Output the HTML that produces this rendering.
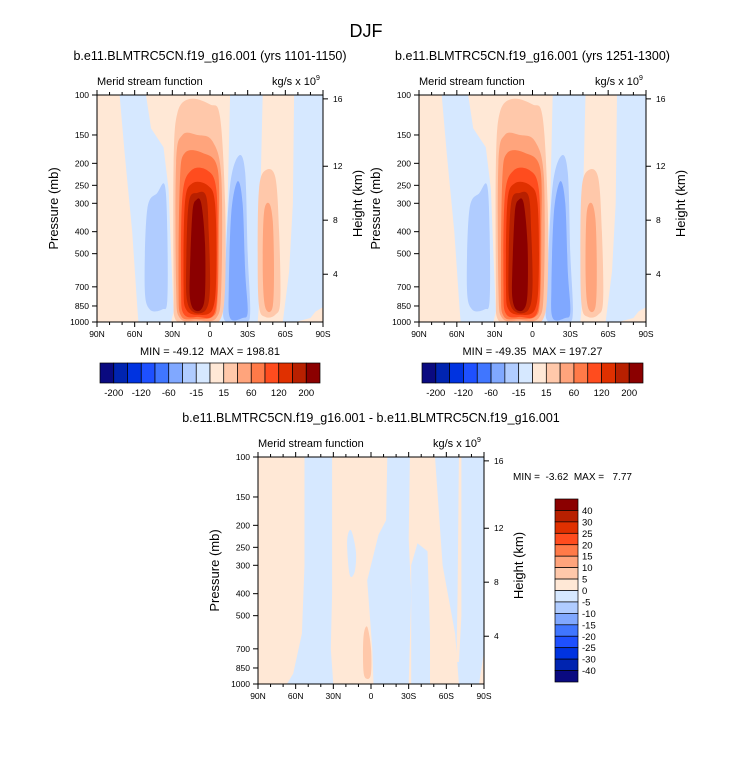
<!DOCTYPE html>
<html><head><meta charset="utf-8"><style>
body{margin:0;background:#fff}
svg{display:block;font-family:"Liberation Sans",sans-serif}
text{white-space:pre}
</style></head><body>
<svg id="svg" width="733" height="780" xmlns="http://www.w3.org/2000/svg">
<text x="366" y="37" font-size="18" text-anchor="middle">DJF</text>
<g id="root"></g>
</svg>
<script>
// ---- data ----
const levelsMain = [-200,-120,-60,-15,15,60,120,200];
const levelsDiff = ["40","30","25","20","15","10","5","0","-5","-10","-15","-20","-25","-30","-40"];
const colors = ["#0a0a80","#0024b0","#0033e0","#1e50ff","#4076ff","#80a8ff","#b0ccff","#d6e8ff",
                "#ffe8d6","#ffc8aa","#ffa47c","#ff7a48","#ff4c1e","#e03000","#b82000","#8b0000"];
const pTicks = [100,150,200,250,300,400,500,700,850,1000];
const hTicks = [4,8,12,16];
const hTickP = [616,356,206,104];   // pressure equivalent of height ticks
const latTicks = [90,60,30,0,-30,-60,-90];
const latLabels = ["90N","60N","30N","0","30S","60S","90S"];
// contour regions: [colorIndex, [[lat,p],...], smooth?]
const fieldA = [
 [7, [[72,100],[51,100],[47,140],[37,170],[33,260],[31,500],[29,900],[31,1000],[57,1000],[58,850],[62,400],[68,180]], 0],
 [6, [[52,700],[50,320],[42,270],[36,250],[34,400],[34,800],[38,880],[48,880]], 1],
 [7, [[-16,100],[-42,100],[-40,300],[-40,700],[-38,1000],[-6,1000],[-10,700],[-14,300]], 0],
 [7, [[-67,100],[-90,100],[-90,860],[-84,900],[-80,960],[-68,1000],[-58,1000],[-63,600],[-66,300]], 0],
 [6, [[-12,600],[-16,250],[-23,185],[-28,220],[-30,500],[-32,900],[-28,1000],[-12,990],[-11,800]], 1],
 [5, [[-15,700],[-17,330],[-22,240],[-26,300],[-28,600],[-30,900],[-26,960],[-16,960]], 1],
 [9, [[29,700],[29,200],[26,120],[16,104],[0,110],[-8,125],[-12,300],[-12,700],[-8,980],[5,1000],[20,1000],[28,960]], 1],
 [10,[[27,700],[27,200],[22,150],[10,150],[-2,160],[-9,230],[-9,700],[-5,960],[10,985],[24,960]], 1],
 [11,[[25,700],[24,240],[20,180],[6,180],[-6,210],[-7,400],[-6,800],[-2,950],[12,970],[23,940]], 1],
 [12,[[23,700],[22,280],[15,215],[2,215],[-5,260],[-6,500],[-4,900],[10,950],[21,920]], 1],
 [13,[[21,700],[20,300],[14,245],[2,250],[-4,300],[-5,600],[-2,880],[10,930],[19,880]], 1],
 [14,[[19,600],[17,300],[10,270],[3,280],[1,400],[0,700],[3,880],[12,910],[18,820]], 1],
 [15,[[16,600],[14,330],[11,290],[7,300],[4,450],[4,750],[7,880],[13,880],[16,780]], 1],
 [9, [[-38,500],[-39,260],[-44,215],[-52,230],[-55,400],[-56,800],[-52,930],[-44,950],[-39,850]], 1],
 [10,[[-42,550],[-43,330],[-47,300],[-50,360],[-51,600],[-50,850],[-46,900],[-43,800]], 1]
];
const fieldD = [
 [7, [[53,100],[31,100],[31,400],[32,700],[30,1000],[67,1000],[62,900],[55,600],[53,300]], 0],
 [7, [[-13,100],[-31,100],[-30,230],[-32,400],[-30,1000],[-2,1000],[-1,700],[3,350],[-6,220],[-12,190]], 0],
 [7, [[-51,100],[-90,100],[-90,720],[-86,1000],[-70,1000],[-67,600],[-57,300]], 0],
 [8, [[-70,100],[-72,100],[-72,500],[-70,800],[-68,800],[-69,400]], 0],
 [7, [[19,235],[16,210],[12,260],[13,320],[17,330]], 1],
 [9, [[6,620],[3,560],[0,700],[0,900],[3,950],[6,880]], 1],
 [7, [[-32,300],[-37,240],[-45,260],[-47,600],[-47,1000],[-32,1000]], 0]
];
const panels = [
 {x0:97,y0:95,w:226,h:227,field:fieldA,title:"b.e11.BLMTRC5CN.f19_g16.001 (yrs 1101-1150)",mm:"MIN = -49.12  MAX = 198.81",name:"panel-left"},
 {x0:419,y0:95,w:227,h:227,field:fieldA,title:"b.e11.BLMTRC5CN.f19_g16.001 (yrs 1251-1300)",mm:"MIN = -49.35  MAX = 197.27",name:"panel-right"},
 {x0:258,y0:457,w:226,h:227,field:fieldD,title:"b.e11.BLMTRC5CN.f19_g16.001 - b.e11.BLMTRC5CN.f19_g16.001",mm:"",name:"panel-diff"}
];
const NS="http://www.w3.org/2000/svg";
const root=document.getElementById('root');
function mk(tag,attrs,parent,txt){const e=document.createElementNS(NS,tag);for(const k in attrs)e.setAttribute(k,attrs[k]);if(txt!==undefined)e.textContent=txt;(parent||root).appendChild(e);return e;}
function smooth(pts){let d="";const n=pts.length;for(let i=0;i<n;i++){const p0=pts[(i-1+n)%n],p1=pts[i],p2=pts[(i+1)%n],p3=pts[(i+2)%n];
 if(i===0)d+="M"+p1[0].toFixed(1)+","+p1[1].toFixed(1);
 const c1=[p1[0]+(p2[0]-p0[0])/6,p1[1]+(p2[1]-p0[1])/6],c2=[p2[0]-(p3[0]-p1[0])/6,p2[1]-(p3[1]-p1[1])/6];
 d+="C"+c1[0].toFixed(1)+","+c1[1].toFixed(1)+" "+c2[0].toFixed(1)+","+c2[1].toFixed(1)+" "+p2[0].toFixed(1)+","+p2[1].toFixed(1);}return d+"Z";}
function linear(pts){return "M"+pts.map(p=>p[0].toFixed(1)+","+p[1].toFixed(1)).join("L")+"Z";}
panels.forEach((P,pi)=>{
 const xs=lat=>P.x0+(90-lat)/180*P.w;
 const ys=p=>P.y0+(Math.log10(p)-2)*P.h;
 const g=mk('g',{});
 
 
 const cx=P.x0+P.w/2;
 const t=mk('text',{x:cx,y:P.y0-35,'font-size':12.5,'text-anchor':'middle'},g,P.title);
 
 
 const clipId='c'+pi;
 const cp=mk('clipPath',{id:clipId},g);mk('rect',{x:P.x0,y:P.y0,width:P.w,height:P.h},cp);
 const bg=mk('rect',{x:P.x0,y:P.y0,width:P.w,height:P.h,fill:colors[8]},g);
 
 
 const fg=mk('g',{'clip-path':'url(#'+clipId+')'},g);
 P.field.forEach(b=>{const pts=b[1].map(q=>[xs(q[0]),ys(q[1])]);
  const path=mk('path',{d:b[2]?smooth(pts):linear(pts),fill:colors[b[0]]},fg);
  
  });
 mk('rect',{x:P.x0,y:P.y0,width:P.w,height:P.h,fill:'none',stroke:'#000','stroke-width':1},g);
 for(let l=-90;l<=90;l+=10){const x=xs(l);const major=l%30===0;const L=major?5:3;
  mk('line',{x1:x,x2:x,y1:P.y0+P.h,y2:P.y0+P.h+L,stroke:'#000'},g);
  mk('line',{x1:x,x2:x,y1:P.y0,y2:P.y0-L,stroke:'#000'},g);}
 latTicks.forEach((l,i)=>{const tt=mk('text',{x:xs(l),y:P.y0+P.h+15,'font-size':8.5,'text-anchor':'middle'},g,latLabels[i]);
  
  });
 pTicks.forEach(p=>{const y=ys(p);mk('line',{x1:P.x0-5,x2:P.x0,y1:y,y2:y,stroke:'#000'},g);
  const tt=mk('text',{x:P.x0-8,y:y+3,'font-size':8.5,'text-anchor':'end'},g,String(p));
  
  });
 hTicks.forEach((h,i)=>{const y=ys(hTickP[i]);mk('line',{x1:P.x0+P.w,x2:P.x0+P.w+5,y1:y,y2:y,stroke:'#000'},g);
  const tt=mk('text',{x:P.x0+P.w+10,y:y+3,'font-size':8.5},g,String(h));
  
  });
 const ml=mk('text',{x:P.x0,y:P.y0-10,'font-size':11},g,"Merid stream function");
 
 
 const un=mk('text',{x:P.x0+P.w-7,y:P.y0-10,'font-size':11,'text-anchor':'end'},g,"kg/s x 10");
 
 
 mk('text',{x:P.x0+P.w-7,y:P.y0-15,'font-size':7},g,"9");
 const yl=mk('text',{x:0,y:0,'font-size':13,'text-anchor':'middle',transform:`translate(${P.x0-39},${P.y0+P.h/2}) rotate(-90)`},g,"Pressure (mb)");
 
 
 const hl=mk('text',{x:0,y:0,'font-size':13,'text-anchor':'middle',transform:`translate(${P.x0+P.w+39},${P.y0+P.h/2-5}) rotate(-90)`},g,"Height (km)");
 
 
 if(P.mm){const mm=mk('text',{x:cx,y:P.y0+P.h+33,'font-size':11,'text-anchor':'middle'},g,P.mm);
  
  
  const bx=P.x0+3,bw=P.w-6,by=363,bh=20,cw=bw/16;
  const cb=mk('g',{},g);
  
  
  colors.forEach((c,i)=>mk('rect',{x:bx+i*cw,y:by,width:cw,height:bh,fill:c,stroke:'#000','stroke-width':0.7},cb));
  levelsMain.forEach((v,i)=>{const tt=mk('text',{x:bx+(2*i+1)*cw,y:by+bh+13,'font-size':9.5,'text-anchor':'middle'},cb,String(v));
   
   });
 } else {
  const mm=mk('text',{x:513,y:480,'font-size':10},g,"MIN =  -3.62  MAX =   7.77");
  
  
  const bx=555,bw=23,by=499,bh=183,ch=bh/16;
  const cb=mk('g',{},g);
  
  
  colors.slice().reverse().forEach((c,i)=>mk('rect',{x:bx,y:by+i*ch,width:bw,height:ch,fill:c,stroke:'#000','stroke-width':0.7},cb));
  levelsDiff.forEach((v,i)=>{const tt=mk('text',{x:bx+27,y:by+(i+1)*ch+3.5,'font-size':9.5},cb,v);
   
   });
 }
});
</script>
</body></html>
